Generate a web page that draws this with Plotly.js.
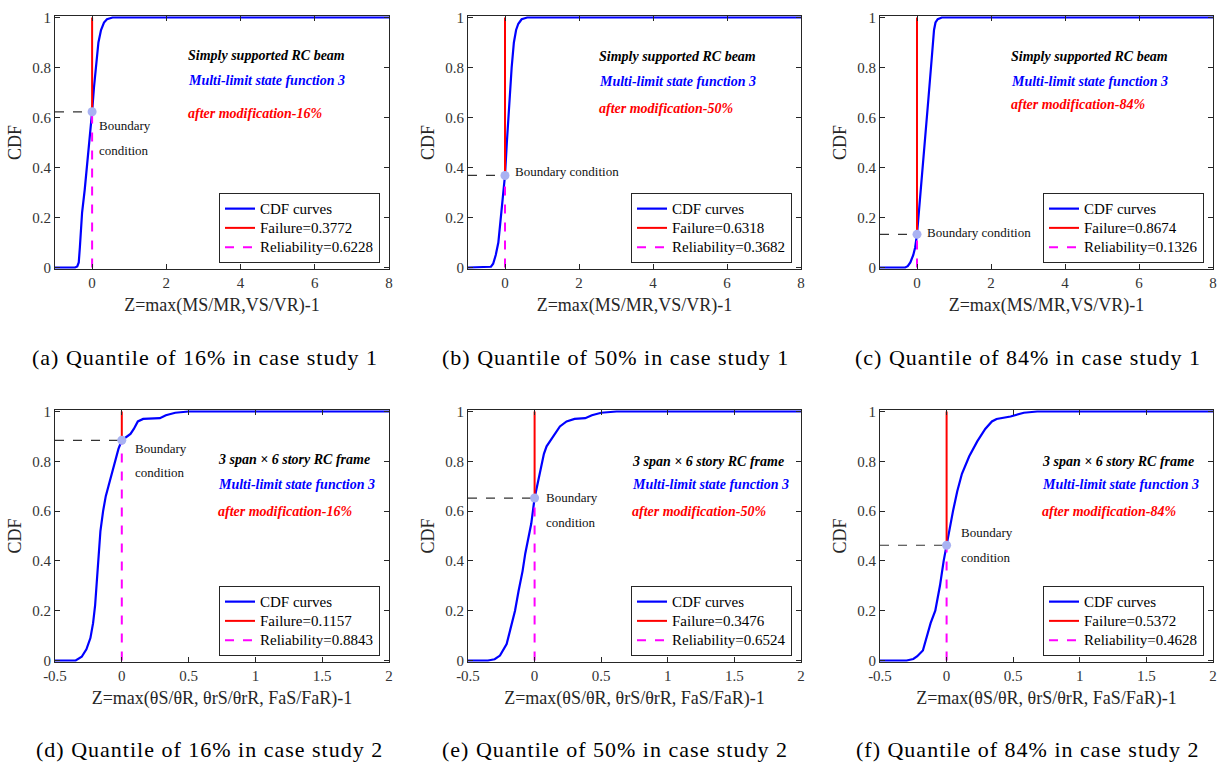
<!DOCTYPE html>
<html>
<head>
<meta charset="utf-8">
<script src="https://cdn.plot.ly/plotly-3.0.1.min.js"></script>
<style>html,body{margin:0;padding:0;background:#fff;}#chart{width:1223px;height:769px;}</style>
</head>
<body>
<div id="chart"></div>
<script>
// ---------- DATA ----------
const zA = [-1, -0.46, -0.4, -0.36, -0.33, -0.3, -0.27, -0.2, -0.1, 0, 0.05, 0.1, 0.17, 0.24, 0.32, 0.4, 0.55, 8];
const cdfA = [0, 0, 0.004, 0.02, 0.08, 0.17, 0.22, 0.31, 0.46, 0.6228, 0.72, 0.81, 0.9, 0.95, 0.98, 0.993, 1, 1];

const zB = [-1, -0.45, -0.38, -0.32, -0.25, -0.18, -0.12, -0.06, 0, 0.05, 0.09, 0.14, 0.18, 0.24, 0.3, 0.36, 0.45, 0.6, 8];
const cdfB = [0, 0, 0.003, 0.015, 0.05, 0.1, 0.2, 0.28, 0.3682, 0.5, 0.6, 0.72, 0.8, 0.9, 0.95, 0.975, 0.993, 1, 1];

const zC = [-1, -0.32, -0.25, -0.18, -0.1, -0.05, 0, 0.1, 0.2, 0.3, 0.4, 0.46, 0.5, 0.56, 0.67, 8];
const cdfC = [0, 0, 0.005, 0.02, 0.05, 0.08, 0.1326, 0.3, 0.48, 0.66, 0.84, 0.95, 0.98, 0.993, 1, 1];

const zD = [-0.5, -0.345, -0.3, -0.265, -0.235, -0.215, -0.2, -0.178, -0.16, -0.14, -0.12, -0.1, -0.075, -0.05, -0.025, 0, 0.035, 0.065, 0.09, 0.12, 0.16, 0.22, 0.285, 0.33, 0.4, 0.5, 2];
const cdfD = [0, 0, 0.015, 0.045, 0.09, 0.15, 0.22, 0.4, 0.52, 0.6, 0.66, 0.7, 0.75, 0.8, 0.85, 0.8843, 0.9, 0.91, 0.93, 0.96, 0.97, 0.97, 0.973, 0.985, 0.995, 1, 1];

const zE = [-0.5, -0.35, -0.3, -0.26, -0.21, -0.18, -0.147, -0.12, -0.09, -0.07, -0.05, -0.025, 0, 0.04, 0.07, 0.09, 0.14, 0.19, 0.24, 0.3, 0.38, 0.43, 0.5, 0.615, 2];
const cdfE = [0, 0, 0.005, 0.02, 0.066, 0.13, 0.2, 0.28, 0.36, 0.43, 0.48, 0.55, 0.6524, 0.76, 0.83, 0.86, 0.9, 0.94, 0.96, 0.97, 0.973, 0.985, 0.995, 1, 1];

const zF = [-0.5, -0.3, -0.25, -0.22, -0.178, -0.15, -0.12, -0.085, -0.05, -0.022, 0, 0.025, 0.048, 0.08, 0.115, 0.17, 0.23, 0.29, 0.34, 0.375, 0.43, 0.48, 0.58, 0.68, 2];
const cdfF = [0, 0, 0.006, 0.017, 0.04, 0.09, 0.15, 0.2, 0.3, 0.4, 0.4628, 0.54, 0.6, 0.68, 0.75, 0.82, 0.88, 0.93, 0.96, 0.97, 0.975, 0.98, 0.995, 1, 1];

const failure = [0.3772, 0.6318, 0.8674, 0.1157, 0.3476, 0.5372];
const reliability = [0.6228, 0.3682, 0.1326, 0.8843, 0.6524, 0.4628];
const quantiles = ["16%", "50%", "84%", "16%", "50%", "84%"];
const caseStudy = [1, 1, 1, 2, 2, 2];
const panelLetters = ["a", "b", "c", "d", "e", "f"];
const xRanges = [[-1, 8], [-1, 8], [-1, 8], [-0.5, 2], [-0.5, 2], [-0.5, 2]];
const xTicks1 = [0, 2, 4, 6, 8];
const xTickText1 = ["0", "2", "4", "6", "8"];
const xTicks2 = [-0.5, 0, 0.5, 1, 1.5, 2];
const xTickText2 = ["-0.5", "0", "0.5", "1", "1.5", "2"];
const yTicks = [0, 0.2, 0.4, 0.6, 0.8, 1];
const yTickText = ["0", "0.2", "0.4", "0.6", "0.8", "1"];
const xTitles = ["Z=max(MS/MR,VS/VR)-1", "Z=max(MS/MR,VS/VR)-1", "Z=max(MS/MR,VS/VR)-1",
  "Z=max(θS/θR, θrS/θrR, FaS/FaR)-1", "Z=max(θS/θR, θrS/θrR, FaS/FaR)-1", "Z=max(θS/θR, θrS/θrR, FaS/FaR)-1"];
const structureNames = ["Simply supported RC beam", "Simply supported RC beam", "Simply supported RC beam",
  "3 span × 6 story RC frame", "3 span × 6 story RC frame", "3 span × 6 story RC frame"];
const boundaryLabels = [["Boundary", "condition"], ["Boundary condition"], ["Boundary condition"],
  ["Boundary", "condition"], ["Boundary", "condition"], ["Boundary", "condition"]];

const zs = [zA, zB, zC, zD, zE, zF];
const cdfs = [cdfA, cdfB, cdfC, cdfD, cdfE, cdfF];

// ---------- LAYOUT GEOMETRY (pixels) ----------
const W = 1223, H = 769;
const fx = p => p / W;
const fy = p => 1 - p / H;
const cols = [[55, 389], [468, 801], [880, 1213]];
const rows = [[16, 269], [410, 662]];
const textPos = [
  {tx: 186, ty: [55, 80, 113], bx: 97, by: [125, 150]},
  {tx: 597, ty: [57, 82, 108], bx: 513, by: [172]},
  {tx: 1009, ty: [57, 82, 104], bx: 925, by: [232]},
  {tx: 216, ty: [459, 485, 511], bx: 133, by: [448, 472]},
  {tx: 630, ty: [461, 485, 511], bx: 544, by: [497, 522]},
  {tx: 1040, ty: [461, 485, 511], bx: 959, by: [532, 557]}
];
const captionPos = [[205, 357], [615, 357], [1028, 357], [209, 749], [615, 749], [1028, 749]];

const SERIF = "'Liberation Serif', 'Times New Roman', Times, serif";
const traces = [];
const layout = {
  width: W, height: H,
  margin: {l: 0, r: 0, t: 0, b: 0},
  paper_bgcolor: "#fff", plot_bgcolor: "#fff",
  showlegend: true,
  font: {family: SERIF, color: "#262626"},
  annotations: []
};
const leg = t => "<span style=\"font-size:15px\">" + t + "</span>";

for (let i = 0; i < 6; i++) {
  const n = i + 1;
  const xa = n === 1 ? "x" : "x" + n;
  const ya = n === 1 ? "y" : "y" + n;
  const lg = n === 1 ? "legend" : "legend" + n;
  const col = cols[i % 3], row = rows[Math.floor(i / 3)];
  const xr = xRanges[i];
  const rel = reliability[i];
  const firstRow = i < 3;

  traces.push({x: [xr[0], 0], y: [rel, rel], xaxis: xa, yaxis: ya, mode: "lines",
    line: {color: "#333", width: 1.2, dash: "dash"}, showlegend: false, hoverinfo: "skip"});
  traces.push({x: zs[i], y: cdfs[i], xaxis: xa, yaxis: ya, mode: "lines", name: leg("CDF curves"),
    legend: lg, line: {color: "#0000ff", width: 2.2}});
  traces.push({x: [0, 0], y: [rel, 1], xaxis: xa, yaxis: ya, mode: "lines",
    name: leg("Failure=" + failure[i].toFixed(4)), legend: lg, line: {color: "#ff0000", width: 2}});
  traces.push({x: [0, 0], y: [0, rel], xaxis: xa, yaxis: ya, mode: "lines",
    name: leg("Reliability=" + rel.toFixed(4)), legend: lg, line: {color: "#ff00ff", width: 2, dash: "dash"}});
  traces.push({x: [0], y: [rel], xaxis: xa, yaxis: ya, mode: "markers", showlegend: false,
    marker: {color: "#a9b2f2", size: 9}, cliponaxis: false});

  const axBase = {
    showline: true, linecolor: "#262626", linewidth: 1, mirror: "ticks",
    ticks: "inside", ticklen: 5, tickwidth: 1, tickcolor: "#262626",
    showgrid: false, zeroline: false,
    tickfont: {family: SERIF, size: 15, color: "#333"}
  };
  layout["xaxis" + (n === 1 ? "" : n)] = Object.assign({}, axBase, {
    domain: [fx(col[0]), fx(col[1])], anchor: ya, range: xr,
    tickvals: firstRow ? xTicks1 : xTicks2, ticktext: firstRow ? xTickText1 : xTickText2,
    title: {text: xTitles[i], font: {family: SERIF, size: 18, color: "#262626"}, standoff: 8}
  });
  layout["yaxis" + (n === 1 ? "" : n)] = Object.assign({}, axBase, {
    domain: [fy(row[1]), fy(row[0])], anchor: xa, range: [-0.006, 1.006],
    tickvals: yTicks, ticktext: yTickText,
    title: {text: "CDF", font: {family: SERIF, size: 18, color: "#262626"}, standoff: 5}
  });
  layout[lg] = {
    x: fx(col[1] - 9), y: fy(row[1] - 6), xanchor: "right", yanchor: "bottom",
    bgcolor: "#fff", bordercolor: "#262626", borderwidth: 1,
    font: {family: SERIF, size: 12.5, color: "#000"}, tracegroupgap: 0, itemwidth: 30
  };

  const tp = textPos[i];
  const lines = [
    {t: structureNames[i], c: "#000"},
    {t: "Multi-limit state function 3", c: "#0000ff"},
    {t: "after modification-" + quantiles[i], c: "#ff0000"}
  ];
  lines.forEach((L, k) => {
    layout.annotations.push({xref: "paper", yref: "paper", x: fx(tp.tx), y: fy(tp.ty[k]),
      xanchor: "left", yanchor: "middle", showarrow: false,
      text: "<b><i>" + L.t + "</i></b>", font: {family: SERIF, size: 14, color: L.c}});
  });
  boundaryLabels[i].forEach((t, k) => {
    layout.annotations.push({xref: "paper", yref: "paper", x: fx(tp.bx), y: fy(tp.by[k]),
      xanchor: "left", yanchor: "middle", showarrow: false,
      text: t, font: {family: SERIF, size: 13, color: "#111"}});
  });
  layout.annotations.push({xref: "paper", yref: "paper", x: fx(captionPos[i][0]), y: fy(captionPos[i][1]),
    xanchor: "center", yanchor: "middle", showarrow: false,
    text: "<span style=\"letter-spacing:1px\">(" + panelLetters[i] + ") Quantile of " + quantiles[i] +
      " in case study " + caseStudy[i] + "</span>",
    font: {family: SERIF, size: 22, color: "#000"}});
}

Plotly.newPlot("chart", traces, layout, {displayModeBar: false, staticPlot: true});
</script>
</body>
</html>
